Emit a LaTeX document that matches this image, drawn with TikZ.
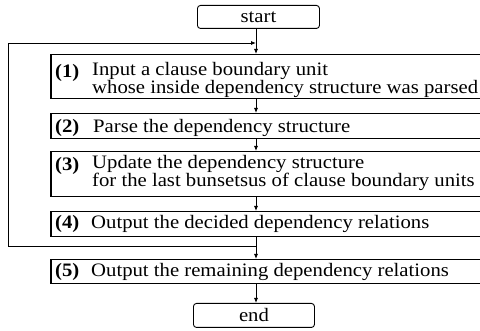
\documentclass[tikz,border=0pt]{standalone}
\usepackage{fontspec}
\setmainfont{Liberation Serif}[FakeStretch=1.09]
\usetikzlibrary{arrows.meta}
\begin{document}
\begin{tikzpicture}[x=1pt,y=-1pt,
  stepbox/.style={draw, line width=1.5pt, rectangle, anchor=north west, inner sep=0, minimum width=436pt},
  term/.style={draw, line width=0.9pt, rounded corners=3pt, inner sep=0, anchor=north west, font=\fontsize{19}{16}\selectfont},
  txt/.style={anchor=base west, inner sep=0, align=left, font=\fontsize{19}{16}\selectfont},
  lbl/.style={anchor=base west, inner sep=0, font=\fontsize{19}{16}\selectfont\bfseries},
  conn/.style={line width=0.8pt},
  arr/.style={conn, -{Latex[length=5pt,width=4pt]}}]
\useasboundingbox (0,0) rectangle (480,331);
% terminals
\node[term, minimum width=122pt, minimum height=23pt] (start) at (197,5) {start};
\node[term, minimum width=121pt, minimum height=24pt] (end) at (193,303) {end};
% step boxes
\node[stepbox, minimum height=44pt] (b1) at (50,54) {};
\node[stepbox, minimum height=25pt] (b2) at (50,113) {};
\node[stepbox, minimum height=45pt] (b3) at (50,151) {};
\node[stepbox, minimum height=25pt] (b4) at (50,211) {};
\node[stepbox, minimum height=24pt] (b5) at (50,259) {};
% texts
\node[lbl] (l1) at (55,78) {(1)};
\node[txt] (t1) at (92,94) {Input a clause boundary unit\\whose inside dependency structure was parsed};
\node[lbl] (l2) at (55,133) {(2)};
\node[txt] (t2) at (93,133) {Parse the dependency structure};
\node[lbl] (l3) at (55,171) {(3)};
\node[txt] (t3) at (92,187) {Update the dependency structure\\for the last bunsetsus of clause boundary units};
\node[lbl] (l4) at (55,229) {(4)};
\node[txt] (t4) at (91,229) {Output the decided dependency relations};
\node[lbl] (l5) at (55,277) {(5)};
\node[txt] (t5) at (91,277) {Output the remaining dependency relations};
% connectors
\coordinate (c) at (256,0);
\coordinate (j1) at (256,246);
\coordinate (lb) at (8,246);
\coordinate (lt) at (8,43);
\coordinate (j2) at (256,43);
\draw[arr] (start.south -| c) -- (b1.north -| c);
\draw[arr] (b1.south -| c) -- (b2.north -| c);
\draw[arr] (b2.south -| c) -- (b3.north -| c);
\draw[arr] (b3.south -| c) -- (b4.north -| c);
\draw[arr] (b4.south -| c) -- (b5.north -| c);
\draw[arr] (b5.south -| c) -- (end.north -| c);
\draw[arr] (j1) -- (lb) -- (lt) -- (j2);
\end{tikzpicture}
\end{document}
